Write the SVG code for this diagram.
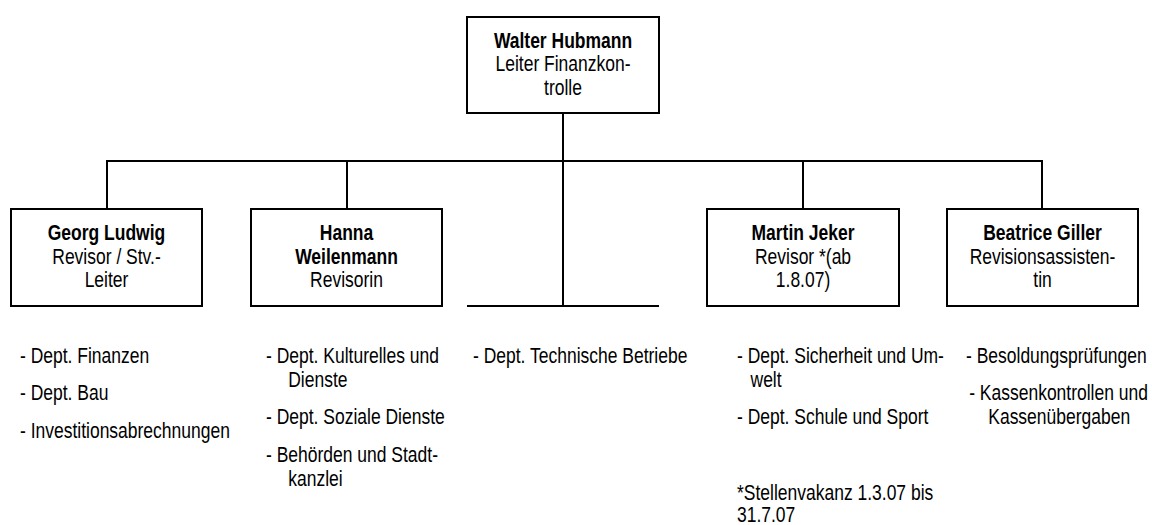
<svg xmlns="http://www.w3.org/2000/svg" width="1152" height="525" viewBox="0 0 1152 525">
<style>
.box{fill:#fff;stroke:#000;stroke-width:2}
.ln{stroke:#000;stroke-width:2;fill:none}
text{font-family:'Liberation Sans',Arial,sans-serif;font-size:22px;fill:#000}
.b{font-weight:bold}
.c{text-anchor:middle}
</style>
<rect width="1152" height="525" fill="#fff"/>
<g id="connectors">
<line class="ln" x1="563" y1="113" x2="563" y2="161"/>
<line class="ln" x1="106" y1="161" x2="1043" y2="161"/>
<line class="ln" x1="107" y1="161" x2="107" y2="209"/>
<line class="ln" x1="347" y1="161" x2="347" y2="209"/>
<line class="ln" x1="563" y1="161" x2="563" y2="306"/>
<line class="ln" x1="467" y1="306" x2="659" y2="306"/>
<line class="ln" x1="803" y1="161" x2="803" y2="209"/>
<line class="ln" x1="1042" y1="161" x2="1042" y2="209"/>
</g>
<g id="walter">
<rect class="box" x="467" y="17" width="192" height="96"/>
<text class="c" transform="translate(563,47.5) scale(0.795,1)"><tspan class="b" x="0" y="0">Walter Hubmann</tspan><tspan x="0" y="23.6">Leiter Finanzkon-</tspan><tspan x="0" y="47.2">trolle</tspan></text>
</g>
<g id="georg">
<rect class="box" x="11" y="209" width="191" height="97"/>
<text class="c" transform="translate(106.5,240) scale(0.795,1)"><tspan class="b" x="0" y="0">Georg Ludwig</tspan><tspan x="0" y="23.6">Revisor / Stv.-</tspan><tspan x="0" y="47.2">Leiter</tspan></text>
</g>
<g id="hanna">
<rect class="box" x="251" y="209" width="191" height="97"/>
<text class="c" transform="translate(346.5,240) scale(0.795,1)"><tspan class="b" x="0" y="0">Hanna</tspan><tspan class="b" x="0" y="23.6">Weilenmann</tspan><tspan x="0" y="47.2">Revisorin</tspan></text>
</g>
<g id="martin">
<rect class="box" x="707" y="209" width="192" height="97"/>
<text class="c" transform="translate(803,240) scale(0.795,1)"><tspan class="b" x="0" y="0">Martin Jeker</tspan><tspan x="0" y="23.6">Revisor *(ab</tspan><tspan x="0" y="47.2">1.8.07)</tspan></text>
</g>
<g id="beatrice">
<rect class="box" x="947" y="209" width="191" height="97"/>
<text class="c" transform="translate(1042.5,240) scale(0.795,1)"><tspan class="b" x="0" y="0">Beatrice Giller</tspan><tspan x="0" y="23.6">Revisionsassisten-</tspan><tspan x="0" y="47.2">tin</tspan></text>
</g>
<g id="tasks-georg">
<text transform="translate(20,363) scale(0.795,1)"><tspan x="0" y="0">- Dept. Finanzen</tspan><tspan x="0" y="37.5">- Dept. Bau</tspan><tspan x="0" y="75">- Investitionsabrechnungen</tspan></text>
</g>
<g id="tasks-hanna">
<text transform="translate(266,363) scale(0.795,1)"><tspan x="0" y="0">- Dept. Kulturelles und</tspan><tspan x="28" y="23.6">Dienste</tspan><tspan x="0" y="61.5">- Dept. Soziale Dienste</tspan><tspan x="0" y="99">- Behörden und Stadt-</tspan><tspan x="28" y="122.6">kanzlei</tspan></text>
</g>
<g id="tasks-technik">
<text transform="translate(473,363) scale(0.795,1)"><tspan x="0" y="0">- Dept. Technische Betriebe</tspan></text>
</g>
<g id="tasks-martin">
<text transform="translate(737,363) scale(0.795,1)"><tspan x="0" y="0">- Dept. Sicherheit und Um-</tspan><tspan x="17" y="23.6">welt</tspan><tspan x="0" y="61.5">- Dept. Schule und Sport</tspan></text>
<text transform="translate(737,500) scale(0.795,1)"><tspan x="0" y="0">*Stellenvakanz 1.3.07 bis</tspan><tspan x="0" y="22.5">31.7.07</tspan></text>
</g>
<g id="tasks-beatrice">
<text transform="translate(966,363) scale(0.795,1)"><tspan x="0" y="0">- Besoldungsprüfungen</tspan><tspan x="4" y="37.5">- Kassenkontrollen und</tspan><tspan x="28" y="61.1">Kassenübergaben</tspan></text>
</g>
</svg>
